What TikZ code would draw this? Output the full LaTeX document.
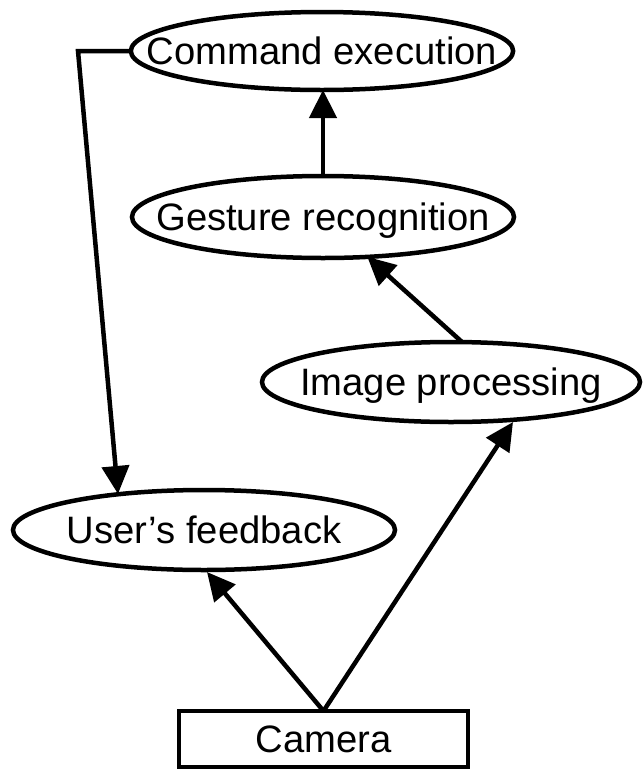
\documentclass[tikz,border=0pt]{standalone}
\usepackage{fontspec}
\setmainfont{Liberation Sans}
\usetikzlibrary{shapes.geometric,arrows.meta,calc}

\tikzset{
  oval/.style={ellipse, draw, line width=4.5pt, inner xsep=-40pt, inner ysep=0pt,
    outer sep=0pt, text height=27pt, text depth=0pt,
    font=\fontsize{38.2}{40}\selectfont},
  box/.style={rectangle, draw, line width=4.5pt, inner sep=0pt, outer sep=0pt,
    minimum width=289pt, minimum height=56pt, text height=27pt, text depth=0pt,
    font=\fontsize{38.2}{40}\selectfont},
  link/.style={line width=4.5pt, -{Triangle[length=28pt,width=27pt]}}
}

\begin{document}
\begin{tikzpicture}[x=1pt,y=-1pt]
  \useasboundingbox (0,0) rectangle (644,772);

  % processing stages
  \node[oval, minimum width=380pt, minimum height=78pt] (cmd)  at (322,51)  {Command execution};
  \node[oval, minimum width=382pt, minimum height=82pt] (gest) at (323,217) {Gesture recognition};
  \node[oval, minimum width=378pt, minimum height=80pt] (ip)   at (451,382) {Image processing};
  \node[oval, minimum width=382pt, minimum height=80pt] (usr)  at (204,530) {User’s feedback};
  \node[box] (cam) at (323.5,739) {Camera};

  % data flow
  \draw[link] (gest.north) -- (gest.north |- cmd.south);
  \draw[link] ($(ip.north)+(11,0)$) -- (gest);
  \draw[link] (cam.north) -- ($(usr.south)+(3,2)$);
  \draw[link] (cam.north) -- ($(ip.south)+(62,0)$);

  % feedback loop back to the user
  \coordinate (bend) at (78,51);
  \draw[link] (cmd.west) -- (bend) -- ($(usr.north)+(-86,4)$);
\end{tikzpicture}
\end{document}
